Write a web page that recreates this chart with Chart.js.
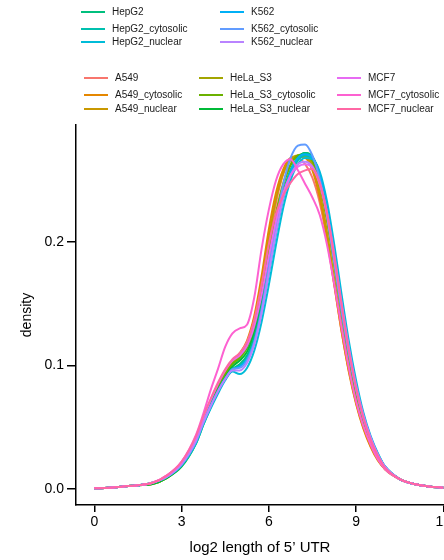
<!DOCTYPE html>
<html>
<head>
<meta charset="utf-8">
<script src="https://cdn.jsdelivr.net/npm/chart.js@4/dist/chart.umd.min.js"></script>
<style>
  html, body { margin: 0; padding: 0; background: #ffffff; }
  #wrap { width: 444px; height: 560px; position: relative; }
</style>
</head>
<body>
<div id="wrap"><canvas id="c"></canvas></div>
<script>
// ---- data ----
const xs = [0, 0.5, 1, 1.5, 2, 2.5, 3, 3.5, 3.75, 4, 4.25, 4.5, 4.75, 5, 5.25, 5.5, 5.75, 6,
            6.25, 6.5, 6.75, 7, 7.25, 7.5, 7.75, 8, 8.25, 8.5, 8.75, 9, 9.25, 9.5, 9.75, 10,
            10.5, 11, 11.5, 12];

const seriesNames = ["A549", "A549_cytosolic", "A549_nuclear",
                     "HeLa_S3", "HeLa_S3_cytosolic", "HeLa_S3_nuclear",
                     "HepG2", "HepG2_cytosolic", "HepG2_nuclear",
                     "K562", "K562_cytosolic", "K562_nuclear",
                     "MCF7", "MCF7_cytosolic", "MCF7_nuclear"];

const seriesColors = ["#F8766D", "#E58700", "#C99800", "#A3A500", "#6BB100", "#00BA38",
                      "#00BF7D", "#00C0AF", "#00BCD8", "#00B0F6", "#619CFF", "#B983FF",
                      "#E76BF3", "#FD61D1", "#FF67A4"];

const A549 = [0.0005, 0.001, 0.002, 0.003, 0.005, 0.010, 0.021, 0.041, 0.057, 0.071, 0.084, 0.095, 0.104, 0.109, 0.118, 0.136, 0.165, 0.200, 0.232, 0.255, 0.266, 0.268, 0.263, 0.252, 0.232, 0.202, 0.165, 0.128, 0.096, 0.070, 0.050, 0.035, 0.024, 0.016, 0.008, 0.004, 0.002, 0.001];
const A549_cytosolic = [0.0005, 0.001, 0.002, 0.003, 0.005, 0.010, 0.021, 0.041, 0.057, 0.071, 0.084, 0.095, 0.104, 0.110, 0.120, 0.140, 0.172, 0.210, 0.240, 0.259, 0.268, 0.269, 0.268, 0.258, 0.236, 0.204, 0.166, 0.128, 0.095, 0.069, 0.049, 0.034, 0.023, 0.016, 0.008, 0.004, 0.002, 0.001];
const A549_nuclear = [0.0005, 0.001, 0.002, 0.003, 0.005, 0.010, 0.020, 0.040, 0.056, 0.070, 0.083, 0.094, 0.103, 0.108, 0.117, 0.136, 0.166, 0.203, 0.235, 0.256, 0.267, 0.270, 0.269, 0.261, 0.240, 0.208, 0.170, 0.132, 0.098, 0.071, 0.051, 0.036, 0.024, 0.016, 0.008, 0.004, 0.002, 0.001];
const HeLa_S3 = [0.0005, 0.001, 0.002, 0.003, 0.004, 0.009, 0.019, 0.039, 0.055, 0.069, 0.082, 0.093, 0.102, 0.107, 0.115, 0.131, 0.158, 0.192, 0.224, 0.248, 0.263, 0.270, 0.270, 0.264, 0.246, 0.217, 0.180, 0.141, 0.106, 0.077, 0.055, 0.038, 0.026, 0.017, 0.008, 0.004, 0.002, 0.001];
const HeLa_S3_cytosolic = [0.0005, 0.001, 0.002, 0.003, 0.004, 0.009, 0.019, 0.038, 0.054, 0.068, 0.081, 0.092, 0.101, 0.106, 0.114, 0.130, 0.156, 0.189, 0.221, 0.246, 0.262, 0.270, 0.271, 0.266, 0.249, 0.220, 0.183, 0.144, 0.109, 0.079, 0.056, 0.039, 0.026, 0.017, 0.008, 0.004, 0.002, 0.001];
const HeLa_S3_nuclear = [0.0005, 0.001, 0.002, 0.003, 0.004, 0.009, 0.018, 0.037, 0.052, 0.066, 0.079, 0.090, 0.099, 0.104, 0.111, 0.126, 0.150, 0.182, 0.214, 0.240, 0.258, 0.268, 0.272, 0.269, 0.254, 0.226, 0.189, 0.149, 0.113, 0.082, 0.058, 0.040, 0.027, 0.017, 0.008, 0.004, 0.002, 0.001];
const HepG2 = [0.0005, 0.001, 0.002, 0.003, 0.005, 0.010, 0.020, 0.039, 0.054, 0.068, 0.080, 0.090, 0.097, 0.101, 0.108, 0.123, 0.148, 0.180, 0.212, 0.239, 0.258, 0.268, 0.272, 0.269, 0.254, 0.227, 0.190, 0.150, 0.114, 0.083, 0.059, 0.041, 0.028, 0.018, 0.008, 0.004, 0.002, 0.001];
const HepG2_cytosolic = [0.0005, 0.001, 0.002, 0.003, 0.005, 0.010, 0.020, 0.039, 0.054, 0.067, 0.079, 0.089, 0.096, 0.100, 0.106, 0.120, 0.144, 0.175, 0.207, 0.235, 0.255, 0.266, 0.270, 0.268, 0.255, 0.229, 0.193, 0.153, 0.116, 0.085, 0.060, 0.042, 0.028, 0.018, 0.008, 0.004, 0.002, 0.001];
const HepG2_nuclear = [0.0005, 0.001, 0.002, 0.003, 0.005, 0.010, 0.019, 0.037, 0.052, 0.065, 0.077, 0.088, 0.095, 0.093, 0.098, 0.112, 0.135, 0.165, 0.198, 0.228, 0.250, 0.263, 0.268, 0.267, 0.257, 0.233, 0.198, 0.158, 0.120, 0.088, 0.062, 0.043, 0.029, 0.018, 0.008, 0.004, 0.002, 0.001];
const K562 = [0.0005, 0.001, 0.002, 0.003, 0.005, 0.010, 0.020, 0.039, 0.054, 0.067, 0.079, 0.089, 0.097, 0.099, 0.105, 0.119, 0.143, 0.175, 0.208, 0.237, 0.257, 0.268, 0.271, 0.268, 0.254, 0.228, 0.192, 0.152, 0.115, 0.084, 0.060, 0.042, 0.028, 0.018, 0.008, 0.004, 0.002, 0.001];
const K562_cytosolic = [0.0005, 0.001, 0.002, 0.003, 0.005, 0.010, 0.020, 0.039, 0.054, 0.067, 0.079, 0.089, 0.097, 0.098, 0.104, 0.119, 0.145, 0.180, 0.216, 0.247, 0.268, 0.278, 0.279, 0.270, 0.251, 0.221, 0.183, 0.144, 0.109, 0.080, 0.057, 0.040, 0.027, 0.017, 0.008, 0.004, 0.002, 0.001];
const K562_nuclear = [0.0005, 0.001, 0.002, 0.003, 0.005, 0.010, 0.020, 0.039, 0.054, 0.067, 0.079, 0.089, 0.096, 0.096, 0.102, 0.117, 0.142, 0.175, 0.208, 0.236, 0.254, 0.263, 0.265, 0.261, 0.248, 0.224, 0.190, 0.151, 0.115, 0.084, 0.060, 0.042, 0.028, 0.018, 0.008, 0.004, 0.002, 0.001];
const MCF7 = [0.0005, 0.001, 0.002, 0.003, 0.005, 0.011, 0.022, 0.042, 0.058, 0.072, 0.085, 0.096, 0.104, 0.108, 0.116, 0.132, 0.157, 0.188, 0.217, 0.240, 0.254, 0.261, 0.263, 0.260, 0.247, 0.222, 0.187, 0.149, 0.113, 0.082, 0.058, 0.040, 0.027, 0.017, 0.008, 0.004, 0.002, 0.001];
const MCF7_cytosolic = [0.0005, 0.001, 0.002, 0.003, 0.005, 0.011, 0.022, 0.044, 0.061, 0.080, 0.097, 0.115, 0.126, 0.130, 0.133, 0.155, 0.194, 0.226, 0.250, 0.263, 0.267, 0.258, 0.247, 0.236, 0.222, 0.198, 0.166, 0.131, 0.098, 0.071, 0.051, 0.036, 0.024, 0.016, 0.008, 0.004, 0.002, 0.001];
const MCF7_nuclear = [0.0005, 0.001, 0.002, 0.003, 0.005, 0.011, 0.022, 0.043, 0.059, 0.073, 0.086, 0.097, 0.105, 0.110, 0.119, 0.137, 0.165, 0.198, 0.223, 0.238, 0.248, 0.255, 0.258, 0.259, 0.248, 0.224, 0.189, 0.150, 0.113, 0.082, 0.058, 0.040, 0.027, 0.017, 0.008, 0.004, 0.002, 0.001];

const seriesValues = [A549, A549_cytosolic, A549_nuclear, HeLa_S3, HeLa_S3_cytosolic, HeLa_S3_nuclear,
                      HepG2, HepG2_cytosolic, HepG2_nuclear, K562, K562_cytosolic, K562_nuclear,
                      MCF7, MCF7_cytosolic, MCF7_nuclear];

const xTicks = [0, 3, 6, 9, 12];
const yTicks = [0.0, 0.1, 0.2];
const xTitle = "log2 length of 5\u2019 UTR";
const yTitle = "density";

// legend groups (names refer to seriesNames)
const legendTop = [["HepG2", "HepG2_cytosolic", "HepG2_nuclear"],
                   ["K562", "K562_cytosolic", "K562_nuclear"]];
const legendBottom = [["A549", "A549_cytosolic", "A549_nuclear"],
                      ["HeLa_S3", "HeLa_S3_cytosolic", "HeLa_S3_nuclear"],
                      ["MCF7", "MCF7_cytosolic", "MCF7_nuclear"]];

// ---- chart ----
const FONT = "'Liberation Sans', Arial, Helvetica, sans-serif";
const N = seriesNames.length;
const datasets = seriesNames.map((name, i) => ({
  label: name,
  data: xs.map((x, j) => ({ x: x, y: seriesValues[i][j] })),
  borderColor: seriesColors[i],
  backgroundColor: seriesColors[i],
  borderWidth: 2,
  pointRadius: 0,
  fill: false,
  cubicInterpolationMode: 'monotone',
  order: N - i
}));

const legendPlugin = {
  id: 'customLegend',
  afterDraw(chart) {
    const ctx = chart.ctx;
    ctx.save();
    ctx.font = "10px " + FONT;
    ctx.textBaseline = 'middle';
    ctx.textAlign = 'left';
    ctx.lineWidth = 2;
    const drawBlock = (cols, lineX, rowsY) => {
      cols.forEach((col, ci) => {
        col.forEach((name, ri) => {
          const idx = seriesNames.indexOf(name);
          const y = rowsY[ri];
          const x0 = lineX[ci];
          ctx.strokeStyle = seriesColors[idx];
          ctx.beginPath();
          ctx.moveTo(x0, y);
          ctx.lineTo(x0 + 24, y);
          ctx.stroke();
          ctx.fillStyle = '#1a1a1a';
          ctx.fillText(name, x0 + 31, y);
        });
      });
    };
    drawBlock(legendTop, [81, 220], [12, 29, 42]);
    drawBlock(legendBottom, [84, 199, 337], [78, 95, 109]);
    ctx.restore();
  }
};

new Chart(document.getElementById('c'), {
  type: 'line',
  data: { datasets: datasets },
  plugins: [legendPlugin],
  options: {
    responsive: true,
    maintainAspectRatio: false,
    animation: false,
    devicePixelRatio: 1,
    layout: { padding: { top: 125, left: 0, right: 0, bottom: 0 } },
    plugins: { legend: { display: false }, tooltip: { enabled: false } },
    scales: {
      x: {
        type: 'linear',
        min: -0.63,
        max: 12.025,
        afterBuildTicks: (s) => { s.ticks = xTicks.map(v => ({ value: v })); },
        afterFit: (s) => { s.height = 55; s.paddingLeft = 0; s.paddingRight = 0; },
        ticks: { color: '#000', font: { family: FONT, size: 14 }, padding: 2, maxRotation: 0,
                 autoSkip: false, callback: (v) => String(v) },
        grid: { drawOnChartArea: false, drawTicks: true, tickLength: 7, color: '#000', lineWidth: 1.5 },
        border: { display: true, color: '#000', width: 1.5 },
        title: { display: true, text: xTitle, color: '#000', font: { family: FONT, size: 15 },
                 padding: { top: 0, bottom: 3 } }
      },
      y: {
        type: 'linear',
        min: -0.013,
        max: 0.2947,
        afterBuildTicks: (s) => { s.ticks = yTicks.map(v => ({ value: v })); },
        afterFit: (s) => { s.width = 76; },
        ticks: { color: '#000', font: { family: FONT, size: 14 }, padding: 3,
                 callback: (v) => Number(v).toFixed(1) },
        grid: { drawOnChartArea: false, drawTicks: true, tickLength: 9, color: '#000', lineWidth: 1.5 },
        border: { display: true, color: '#000', width: 1.5 },
        title: { display: true, text: yTitle, color: '#000', font: { family: FONT, size: 14 },
                 padding: { top: 19, bottom: 0 } }
      }
    }
  }
});
</script>
</body>
</html>
